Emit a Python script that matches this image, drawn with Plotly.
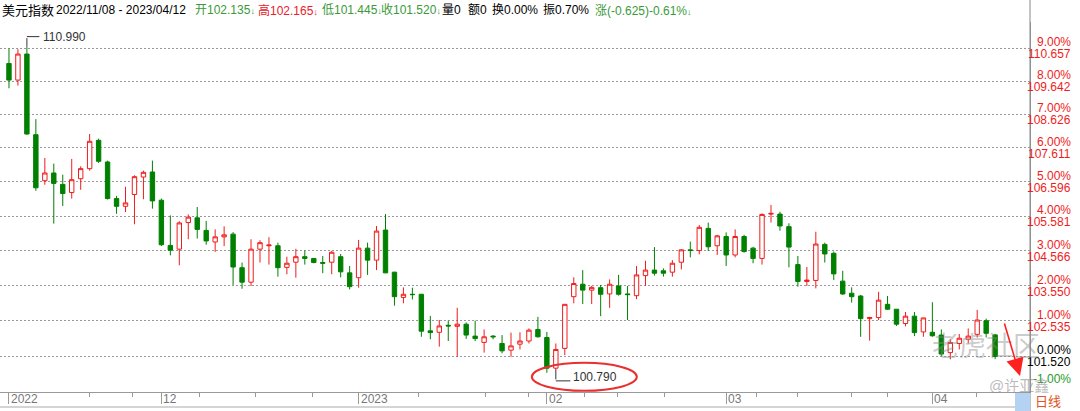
import math
import plotly.graph_objects as go

title_name = "美元指数"
date_span = "2022/11/08 - 2023/04/12"

open_ = [110.18, 109.67, 110.47, 108.01, 106.63, 106.86, 106.52, 106.28, 106.69, 106.99,
         107.84, 107.19, 106.10, 105.87, 106.22, 106.74, 106.89, 106.05, 104.72, 104.61,
         105.39, 105.53, 105.16, 104.82, 104.97, 105.05, 104.07, 103.65, 104.61, 104.71,
         104.71, 104.08, 104.23, 104.39, 104.34, 104.22, 104.23, 104.39, 103.92, 103.78,
         104.64, 104.29, 105.17, 103.94, 103.21, 103.30, 103.30, 102.25, 102.21, 102.41,
         102.38, 102.44, 102.10, 101.92, 102.10, 101.89, 101.70, 101.87, 101.96, 102.29,
         102.06, 101.19, 101.75, 103.23, 103.59, 103.42, 103.49, 103.31, 103.54, 103.31,
         103.26, 103.84, 104.00, 103.98, 103.94, 104.23, 104.59, 104.57, 105.22, 104.71,
         104.98, 104.44, 104.98, 104.64, 104.34, 105.64, 105.64, 105.27, 104.16, 103.67,
         103.70, 104.75, 104.49, 103.68, 103.33, 103.25, 102.60, 102.63, 103.01, 102.87,
         102.46, 102.67, 102.22, 102.21, 102.13, 101.63, 101.89, 102.01, 102.15, 102.54,
         102.135]
high = [110.64, 110.62, 110.70, 108.48, 107.31, 107.14, 106.81, 107.28, 107.06, 108.03,
        107.89, 107.23, 106.18, 106.45, 106.79, 106.93, 107.23, 106.10, 105.60, 105.43,
        105.63, 105.85, 105.44, 105.19, 105.28, 105.11, 104.22, 104.90, 104.87, 104.96,
        104.80, 104.39, 104.62, 104.57, 104.35, 104.41, 104.56, 104.47, 104.12, 104.88,
        104.80, 105.29, 105.64, 103.95, 103.50, 103.49, 103.31, 102.68, 102.56, 102.54,
        102.91, 102.49, 102.54, 102.29, 102.13, 102.13, 102.20, 102.21, 102.32, 102.65,
        102.22, 101.89, 103.01, 103.79, 104.00, 103.54, 103.57, 103.73, 103.86, 103.54,
        104.12, 104.27, 104.67, 104.05, 104.29, 104.61, 104.83, 105.32, 105.39, 105.03,
        105.10, 105.19, 105.03, 104.68, 105.66, 105.91, 105.71, 105.37, 104.41, 104.09,
        105.12, 104.80, 104.54, 103.98, 103.50, 103.28, 102.65, 103.37, 103.25, 102.87,
        102.79, 102.79, 102.62, 103.07, 102.29, 102.01, 102.16, 102.32, 102.85, 102.60,
        102.165]
low = [109.42, 109.50, 108.01, 106.33, 106.51, 105.36, 105.88, 106.10, 106.36, 106.93,
       107.16, 106.07, 105.65, 105.70, 105.34, 106.08, 105.80, 104.70, 104.43, 104.14,
       104.90, 104.92, 104.74, 104.53, 104.70, 103.57, 103.46, 103.54, 104.22, 104.16,
       103.81, 103.88, 103.78, 104.16, 104.20, 103.91, 103.88, 103.79, 103.44, 103.49,
       103.86, 104.00, 103.91, 102.97, 103.04, 103.15, 102.08, 102.01, 101.80, 101.96,
       101.51, 102.02, 101.96, 101.63, 102.01, 101.61, 101.51, 101.72, 101.89, 102.06,
       101.06, 101.17, 101.56, 103.04, 103.02, 103.02, 102.67, 102.91, 103.26, 102.56,
       103.16, 103.54, 103.84, 103.81, 103.81, 104.02, 104.37, 104.46, 104.56, 104.44,
       104.12, 104.37, 104.51, 104.20, 104.16, 105.39, 105.15, 104.08, 103.52, 103.54,
       103.47, 104.22, 103.71, 103.28, 103.06, 102.08, 101.97, 102.56, 102.85, 102.39,
       102.38, 102.10, 102.08, 102.08, 101.53, 101.44, 101.72, 101.89, 102.06, 102.06,
       101.445]
close = [109.67, 110.47, 108.03, 106.42, 106.86, 106.55, 106.25, 106.66, 106.99, 107.81,
         107.21, 106.10, 105.87, 105.97, 106.75, 106.88, 106.03, 104.74, 104.58, 105.38,
         105.55, 105.19, 104.85, 104.97, 105.03, 104.09, 103.65, 104.61, 104.80, 104.73,
         104.07, 104.20, 104.39, 104.34, 104.22, 104.20, 104.52, 103.95, 103.52, 104.64,
         104.29, 105.14, 103.92, 103.23, 103.30, 103.29, 102.24, 102.20, 102.39, 102.39,
         102.44, 102.13, 102.03, 102.08, 102.08, 101.68, 101.82, 101.96, 102.27, 102.08,
         101.19, 101.72, 103.01, 103.61, 103.42, 103.50, 103.30, 103.59, 103.30, 103.29,
         103.86, 104.00, 103.91, 103.91, 104.20, 104.59, 104.57, 105.25, 104.68, 105.00,
         104.44, 104.98, 104.54, 104.34, 105.63, 105.66, 105.29, 104.67, 103.67, 103.71,
         104.76, 104.47, 103.89, 103.31, 103.23, 102.60, 102.63, 103.13, 102.87, 102.44,
         102.67, 102.20, 102.62, 102.11, 101.59, 101.92, 102.04, 102.10, 102.56, 102.18,
         101.520]
idx = list(range(len(open_)))

month_tick_idx = [0, 17, 39, 60, 80, 103]
month_tick_text = ["2022", "12", "2023", "02", "03", "04"]
minor_tick_idx = [9, 13.8, 21.2, 27.5, 33.9, 45.7, 53.1, 57.9, 64.2, 67.9, 73.1,
                  83.4, 87.9, 94, 98, 107.9]

base_close = 101.520
pct_levels = [9, 8, 7, 6, 5, 4, 3, 2, 1, 0, -1]
level_prices = [base_close * (1 + k / 100) for k in pct_levels]

max_label = "110.990"
min_label = "100.790"
max_idx = 2
min_idx = 61

hdr_parts = [
    (0, "美元指数", "#000000", 13),
    (54, date_span, "#000000", 12),
    (193, "开102.135<span style='font-size:9px'>↓</span>", "#3a9a3a", 12),
    (256, "高102.165<span style='font-size:9px'>↓</span>", "#e8202a", 12),
    (320, "低101.445<span style='font-size:9px'>↓</span>", "#3a9a3a", 12),
    (379, "收101.520<span style='font-size:9px'>↓</span>", "#3a9a3a", 12),
    (440, "量0", "#000000", 12),
    (466, "额0", "#000000", 12),
    (490, "换0.00%", "#000000", 12),
    (541, "振0.70%", "#000000", 12),
    (593, "涨(-0.625)-0.61%<span style='font-size:9px'>↓</span>", "#3a9a3a", 12),
]

W, H = 1080, 411
PL, PR, PT, PB = 0, 50, 22, 19
pw, ph = W - PL - PR, H - PT - PB
FONT = "Liberation Sans, Arial, Noto Sans CJK SC, sans-serif"
RED = "#f01c1c"
GREEN = "#008000"
X_RANGE = [-1.0, 113.89]
Y_LO, Y_HI = 100.518, 111.464
ly0, ly1 = math.log10(Y_LO), math.log10(Y_HI)


def px_x(p):
    return (p - PL) / pw


def px_y(p):
    return (H - PB - p) / ph


def paper_of_x(v):
    return (v - X_RANGE[0]) / (X_RANGE[1] - X_RANGE[0])


def paper_of_price(v):
    return (math.log10(v) - ly0) / (ly1 - ly0)


fig = go.Figure()
fig.add_trace(go.Candlestick(
    x=idx, open=open_, high=high, low=low, close=close,
    increasing=dict(line=dict(color=RED, width=1), fillcolor="#ffffff"),
    decreasing=dict(line=dict(color=GREEN, width=1), fillcolor=GREEN),
    whiskerwidth=0, hoverinfo="skip", showlegend=False,
))

anns = []
for k, p in zip(pct_levels, level_prices):
    col = RED if k > 0 else ("#000000" if k == 0 else "#2a9a2a")
    if k >= 0:
        anns.append(dict(x=1073 / pw, xref="paper", y=paper_of_price(p), yref="paper",
                         text=f"{k:.2f}%", showarrow=False, xanchor="right", yanchor="bottom",
                         yshift=-3, font=dict(size=12, color=col, family=FONT)))
        anns.append(dict(x=1073 / pw, xref="paper", y=paper_of_price(p), yref="paper",
                         text=f"{p:.3f}", showarrow=False, xanchor="right", yanchor="top",
                         yshift=3, font=dict(size=12, color=col, family=FONT)))
    else:
        # bottom level label is lifted to stay above the date strip
        anns.append(dict(x=1073 / pw, xref="paper", y=px_y(379), yref="paper",
                         text=f"{k:.2f}%", showarrow=False, xanchor="right", yanchor="middle",
                         font=dict(size=12, color=col, family=FONT)))

for i, t in zip(month_tick_idx, month_tick_text):
    anns.append(dict(x=i, xref="x", y=px_y(399.5), yref="paper", text=t, showarrow=False,
                     xanchor="left", yanchor="middle", xshift=0,
                     font=dict(size=12, color="#777777", family=FONT)))

for x0, t, c, s in hdr_parts:
    anns.append(dict(x=px_x(x0), xref="paper", y=px_y(10), yref="paper", text=t,
                     showarrow=False, xanchor="left", yanchor="middle",
                     font=dict(size=s, color=c, family=FONT)))

# extreme labels with L-shaped leaders (two plain-line arrows each)
hi_y = math.log10(high[max_idx])
lo_y = math.log10(low[min_idx])
lead = dict(showarrow=True, arrowhead=0, arrowwidth=1, arrowcolor="#333333", text="",
            standoff=0, startstandoff=0)
anns.append(dict(x=max_idx, xref="x", y=hi_y, yref="y", ax=0, ay=-10, **lead))
anns.append(dict(x=max_idx, xref="x", y=hi_y, yref="y", yshift=10, ax=14, ay=0, **lead))
anns.append(dict(x=min_idx, xref="x", y=lo_y, yref="y", ax=0, ay=12, **lead))
anns.append(dict(x=min_idx, xref="x", y=lo_y, yref="y", yshift=-12, ax=16, ay=0, **lead))
anns.append(dict(x=max_idx, xref="x", y=hi_y, yref="y", text=max_label,
                 showarrow=False, xanchor="left", yanchor="middle", xshift=14, yshift=10,
                 font=dict(size=12, color="#333333", family=FONT)))
anns.append(dict(x=min_idx, xref="x", y=lo_y, yref="y", text=min_label,
                 showarrow=False, xanchor="left", yanchor="middle", xshift=15, yshift=-8,
                 font=dict(size=12, color="#333333", family=FONT)))

# watermark-ish marks
anns.append(dict(x=px_x(930), xref="paper", y=px_y(347), yref="paper", text="老虎社区",
                 showarrow=False, xanchor="left", yanchor="middle",
                 font=dict(size=27, color="rgba(140,140,140,0.45)", family=FONT)))
anns.append(dict(x=px_x(987), xref="paper", y=px_y(385), yref="paper", text="@许亚鑫",
                 showarrow=False, xanchor="left", yanchor="middle",
                 font=dict(size=15, color="rgba(140,140,140,0.6)", family=FONT)))
anns.append(dict(x=px_x(1033), xref="paper", y=px_y(401), yref="paper", text="日线",
                 showarrow=False, xanchor="left", yanchor="middle",
                 font=dict(size=13, color="#e05020", family=FONT)))
# red arrow
anns.append(dict(x=px_x(1020), xref="paper", y=px_y(376), yref="paper", text="",
                 showarrow=True, ax=-16, ay=-54, arrowhead=2, arrowsize=2.2, arrowwidth=1.6,
                 arrowcolor="#ff2020"))

# ellipse around the low, placed relative to the low candle (paper coords from axis ranges)
ex = paper_of_x(min_idx)
ey = paper_of_price(low[min_idx])

shapes = [
    dict(type="circle", xref="paper", yref="paper",
         x0=ex - 24 / pw, x1=ex + 81 / pw, y0=ey - 22 / ph, y1=ey + 6 / ph,
         line=dict(color="#e83030", width=2)),
    # right panel separator
    dict(type="line", xref="paper", yref="paper", x0=1, x1=1, y0=px_y(411), y1=px_y(0),
         line=dict(color="#888888", width=1)),
    # bottom line of the date strip
    dict(type="line", xref="paper", yref="paper", x0=0, x1=1, y0=px_y(407), y1=px_y(407),
         line=dict(color="#aaaaaa", width=1)),
    # blue box
    dict(type="rect", xref="paper", yref="paper", x0=px_x(1015), x1=1, y0=px_y(411),
         y1=px_y(393), fillcolor="#b4d2f2", line=dict(width=0)),
]

fig.update_layout(
    width=W, height=H, margin=dict(l=PL, r=PR, t=PT, b=PB),
    paper_bgcolor="#ffffff", plot_bgcolor="#ffffff",
    font=dict(family=FONT, size=12),
    annotations=anns, shapes=shapes,
    xaxis=dict(range=X_RANGE, rangeslider=dict(visible=False), showgrid=False,
               zeroline=False, showline=True, linecolor="#999999", linewidth=1,
               tickmode="array", tickvals=month_tick_idx, ticks="outside", ticklen=11,
               tickcolor="#999999", showticklabels=False,
               minor=dict(tickmode="array", tickvals=minor_tick_idx, ticks="outside",
                          ticklen=4, tickcolor="#999999", showgrid=False)),
    yaxis=dict(type="log", range=[ly0, ly1],
               tickmode="array", tickvals=level_prices, showticklabels=False,
               showgrid=True, gridcolor="#999999", griddash="2px,2px", gridwidth=1,
               zeroline=False, showline=True, linecolor="#999999", mirror=True, ticks=""),
)

fig.write_html("out.html", config={"displayModeBar": False},
               post_script="document.body.style.margin='0px';document.body.style.overflow='hidden';")
